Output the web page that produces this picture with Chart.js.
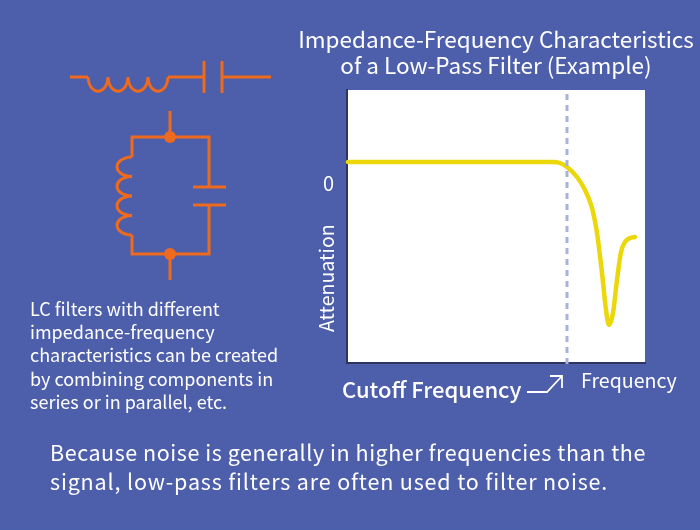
<!DOCTYPE html>
<html><head><meta charset="utf-8">
<script src="https://cdn.jsdelivr.net/npm/chart.js@4"></script>
<style>
html,body{margin:0;padding:0;background:#4d5eab;width:700px;height:530px;overflow:hidden}
#w{position:relative;width:700px;height:530px}
canvas{position:absolute;left:0;top:0}
</style></head><body><div id="w"><canvas id="c" width="700" height="530"></canvas></div>
<script>
const titleLines = ["Impedance-Frequency Characteristics","of a Low-Pass Filter (Example)"];
const noteLines = ["LC filters with different","impedance-frequency","characteristics can be created","by combining components in","series or in parallel, etc."];
const footLines = ["Because noise is generally in higher frequencies than the","signal, low-pass filters are often used to filter noise."];
const xAxisLabel = "Frequency";
const yAxisLabel = "Attenuation";
const cutoffLabel = "Cutoff Frequency";
const yTickValues = [0];
const frequency = [1,206,213,220,230,238,245,250,255,259,262,266,270,274,278,283,288];
const attenuation = [21,21,20,16,6,-7,-25,-50,-90,-127,-142,-130,-97,-69,-59,-55,-54];
const cutoffFrequency = 220;
const cutoffY = [89,-184];
const FONT = '"Noto Sans CJK JP","Noto Sans",sans-serif';
const ORANGE = '#ee6a1f';

const decor = {
  id:'decor',
  beforeDraw(ch){
    const c=ch.ctx, a=ch.chartArea;
    c.save();
    c.fillStyle='#4d5eab'; c.fillRect(0,0,700,530);
    c.fillStyle='#fff'; c.fillRect(a.left,a.top,a.right-a.left,a.bottom-a.top);
    c.restore();
  },
  afterDraw(ch){
    const c=ch.ctx;
    c.save();
    // schematic
    c.strokeStyle=ORANGE; c.lineWidth=3; c.lineJoin='miter';
    c.beginPath();
    c.moveTo(70,77); c.lineTo(88,77);
    for(let i=0;i<4;i++){const x=88+i*20; c.moveTo(x,77); c.bezierCurveTo(x+1,96,x+19,96,x+20,77);}
    c.moveTo(168,77); c.lineTo(204,77);
    c.moveTo(204,61); c.lineTo(204,93);
    c.moveTo(222,61); c.lineTo(222,93);
    c.moveTo(222,77); c.lineTo(271,77);
    c.moveTo(170,111); c.lineTo(170,137);
    c.moveTo(170,254); c.lineTo(170,280);
    c.stroke();
    c.beginPath();
    c.moveTo(132,157); c.lineTo(132,137); c.lineTo(209,137); c.lineTo(209,187);
    c.moveTo(193,187); c.lineTo(226,187);
    c.moveTo(193,205); c.lineTo(226,205);
    c.moveTo(209,205); c.lineTo(209,254); c.lineTo(132,254); c.lineTo(132,235);
    for(let i=0;i<4;i++){const y=157+i*19.5; c.moveTo(132,y); c.bezierCurveTo(112,y+1,112,y+18.5,132,y+19.5);}
    c.stroke();
    c.fillStyle=ORANGE;
    [137,254].forEach(y=>{c.beginPath();c.arc(170,y,6,0,Math.PI*2);c.fill();});
    // arrow
    c.strokeStyle='#fff'; c.lineWidth=1.8;
    c.beginPath();
    c.moveTo(527,392); c.lineTo(547,392); c.lineTo(562,376);
    c.moveTo(550,376); c.lineTo(562,376); c.lineTo(562,388);
    c.stroke();
    // text
    c.fillStyle='#fff'; c.textBaseline='alphabetic'; c.textAlign='center';
    c.font='22.5px '+FONT;
    titleLines.forEach((t,i)=>c.fillText(t,496,48+i*26));
    c.textAlign='left';
    c.font='18px '+FONT;
    noteLines.forEach((t,i)=>c.fillText(t,30,316+i*23.2));
    c.font='21.5px '+FONT;
    [0.55,0.84].forEach((sp,i)=>{c.letterSpacing=sp+'px'; c.fillText(footLines[i],50,461+i*28.5);});
    c.letterSpacing='0px';
    c.font='19.6px '+FONT; c.fillText(xAxisLabel,581,388);
    c.font='500 22px '+FONT; c.fillText(cutoffLabel,342,398);
    c.translate(333.5,332); c.rotate(-Math.PI/2);
    c.font='19.6px '+FONT; c.fillText(yAxisLabel,0,0);
    c.restore();
  }
};

new Chart(document.getElementById('c'),{
  type:'scatter',
  data:{datasets:[
    {data:[{x:cutoffFrequency,y:cutoffY[0]},{x:cutoffFrequency,y:cutoffY[1]}],showLine:true,borderColor:'#a9b1d9',borderWidth:3,borderDash:[6,5],pointRadius:0,clip:false},
    {data:frequency.map((x,i)=>({x,y:attenuation[i]})),showLine:true,borderColor:'#ecd80a',borderWidth:4.5,pointRadius:0,cubicInterpolationMode:'monotone',borderCapStyle:'round',clip:false}
  ]},
  options:{
    responsive:false,animation:false,devicePixelRatio:1,
    layout:{padding:{left:317,right:55,bottom:167,top:90}},
    plugins:{legend:{display:false},tooltip:{enabled:false},title:{display:false}},
    scales:{
      x:{type:'linear',min:0,max:298,
        grid:{display:false,drawTicks:false},
        border:{color:'#2e3660',width:2},ticks:{display:false}},
      y:{type:'linear',min:-180,max:93,
        afterFit(s){s.width=30;},
        afterBuildTicks(s){s.ticks=yTickValues.map(value=>({value}));},
        grid:{display:false,drawTicks:false},
        border:{color:'#2e3660',width:2},
        ticks:{color:'#fff',padding:13,font:{family:FONT,size:20},callback:v=>String(v)}}
    }
  },
  plugins:[decor]
});
</script></body></html>
